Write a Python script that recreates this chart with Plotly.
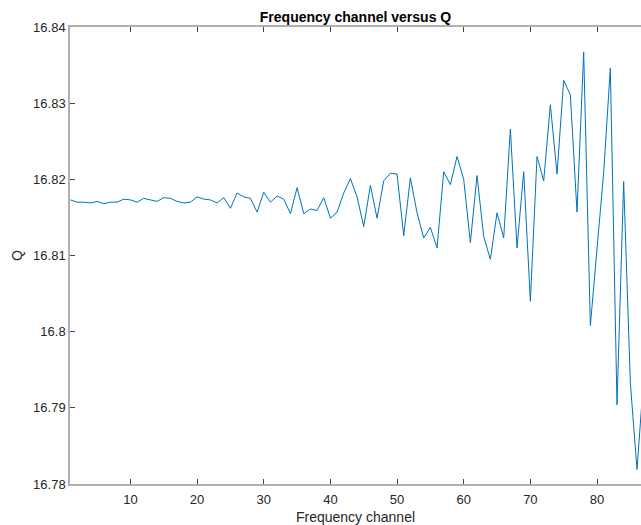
import plotly.graph_objects as go

channels = list(range(1, 88))
q_values = [
    16.8173, 16.8170, 16.8170, 16.8169, 16.8171, 16.8168, 16.8170, 16.8170, 16.8174, 16.8173,
    16.8170, 16.8175, 16.8173, 16.8171, 16.8176, 16.8175, 16.8171, 16.8169, 16.8170, 16.8177,
    16.8174, 16.8173, 16.8169, 16.8176, 16.8162, 16.8182, 16.8177, 16.8175, 16.8157, 16.8183,
    16.8170, 16.8178, 16.8174, 16.8155, 16.8189, 16.8155, 16.8161, 16.8159, 16.8176, 16.8149,
    16.8157, 16.8182, 16.8201, 16.8177, 16.8138, 16.8192, 16.8149, 16.8198, 16.8208, 16.8207,
    16.8126, 16.8202, 16.8156, 16.8123, 16.8137, 16.8110, 16.8210, 16.8193, 16.8230, 16.8200,
    16.8117, 16.8205, 16.8125, 16.8095, 16.8156, 16.8123, 16.8266, 16.8110, 16.8210, 16.8040,
    16.8230, 16.8198, 16.8298, 16.8207, 16.8330, 16.8311, 16.8157, 16.8367, 16.8008, 16.8104,
    16.8209, 16.8346, 16.7904, 16.8197, 16.7933, 16.7819, 16.7940,
]

x_ticks = [10, 20, 30, 40, 50, 60, 70, 80]
y_ticks = [16.78, 16.79, 16.80, 16.81, 16.82, 16.83, 16.84]
y_tick_labels = ["16.78", "16.79", "16.8", "16.81", "16.82", "16.83", "16.84"]

title_text = "Frequency channel versus Q"
x_label = "Frequency channel"
y_label = "Q"

font_family = "Liberation Sans, Arial, Helvetica, sans-serif"

fig = go.Figure()
fig.add_trace(go.Scatter(
    x=channels, y=q_values, mode="lines",
    line=dict(color="#0072BD", width=1),
    showlegend=False,
))

fig.update_layout(
    width=641, height=525,
    margin=dict(l=70, r=0, t=27, b=41),
    paper_bgcolor="white", plot_bgcolor="white",
    font=dict(family=font_family, size=13, color="#262626"),
    title=dict(
        text="<b>" + title_text + "</b>",
        x=(70 + 641) / 2 / 641, xanchor="center",
        y=1 - 17 / 525, yanchor="middle", yref="container",
        font=dict(size=14, color="#000000"),
    ),
)

fig.update_xaxes(
    range=[0.93, 86.6],
    tickvals=x_ticks,
    ticks="inside", ticklen=5, tickwidth=1, tickcolor="#444444",
    showline=True, linecolor="#b0b0b0", linewidth=1.5, mirror="ticks",
    showgrid=False, zeroline=False,
    ticklabelstandoff=3,
    tickfont=dict(size=13, color="#262626"),
    title=dict(text=x_label, font=dict(size=14, color="#262626"), standoff=6),
)
fig.update_yaxes(
    range=[16.78, 16.84],
    tickvals=y_ticks, ticktext=y_tick_labels,
    ticks="inside", ticklen=5, tickwidth=1, tickcolor="#444444",
    showline=True, linecolor="#b0b0b0", linewidth=1.5, mirror=False,
    showgrid=False, zeroline=False,
    tickfont=dict(size=13, color="#262626"),
    title=dict(text=y_label, font=dict(size=14, color="#262626"), standoff=7),
)

fig.write_html("out.html")
